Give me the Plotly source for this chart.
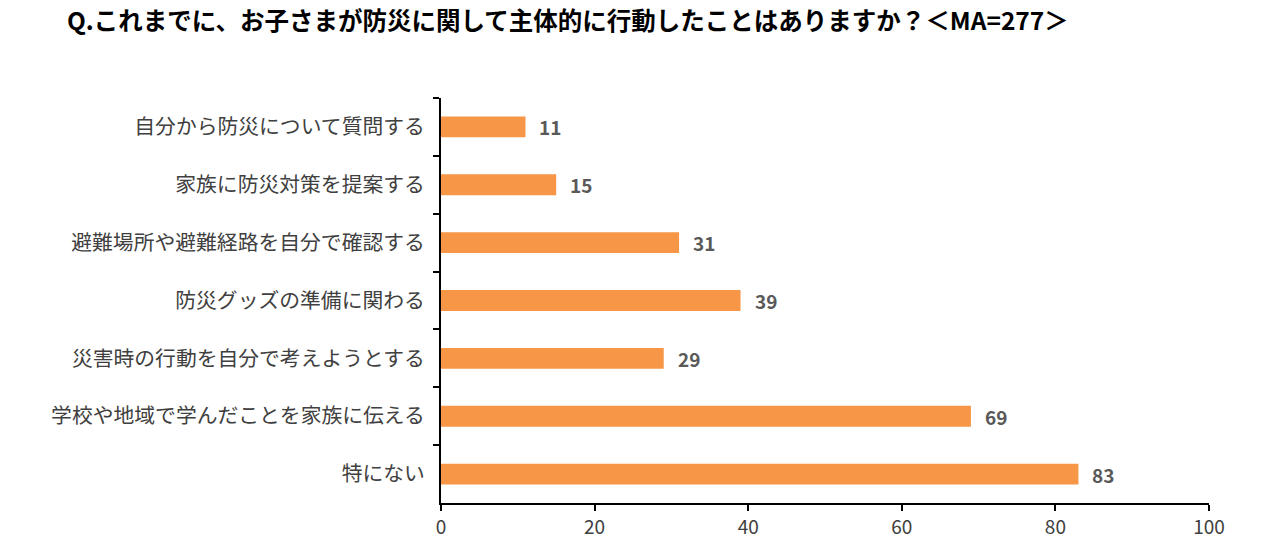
import plotly.graph_objects as go

# Q. これまでに、お子さまが防災に関して主体的に行動したことはありますか？ (MA=277)
categories = ["自分から防災について質問する",
              "家族に防災対策を提案する",
              "避難場所や避難経路を自分で確認する",
              "防災グッズの準備に関わる",
              "災害時の行動を自分で考えようとする",
              "学校や地域で学んだことを家族に伝える",
              "特にない"]
counts = [11, 15, 31, 39, 29, 69, 83]
x_ticks = [0, 20, 40, 60, 80, 100]

font_jp = "Noto Sans CJK JP"

fig = go.Figure(go.Bar(
    x=counts, y=categories, orientation="h",
    marker=dict(color="#F79646", line=dict(width=0)),
    width=0.36,
))

# value labels next to the bar ends
for c, v in zip(categories, counts):
    fig.add_annotation(x=v, y=c, text=f"<b>{v}</b>", showarrow=False,
                       xanchor="left", yanchor="middle", xshift=12,
                       font=dict(size=19, color="#595959", family=font_jp))

fig.update_layout(
    width=1254, height=543,
    plot_bgcolor="white", paper_bgcolor="white",
    margin=dict(l=433, r=53, t=90, b=44),
    showlegend=False,
    title=dict(text="<b>Q.これまでに、お子さまが防災に関して主体的に行動したことはありますか？＜MA=277＞</b>",
               x=59 / 1254, xanchor="left", y=1 - 5 / 543, yanchor="top",
               font=dict(size=24.5, color="#000000", family=font_jp)),
    xaxis=dict(range=[0, 100], tickvals=x_ticks, showgrid=False, zeroline=False,
               showline=True, linecolor="black", linewidth=2,
               ticks="outside", ticklen=6, tickwidth=2, tickcolor="black",
               tickfont=dict(size=19, color="#404040", family=font_jp)),
    yaxis=dict(categoryorder="array", categoryarray=categories, autorange="reversed",
               showgrid=False, showline=True, linecolor="black", linewidth=2,
               ticks="outside", tickson="boundaries", ticklen=6, tickwidth=2, tickcolor="black",
               ticklabelstandoff=10,
               tickfont=dict(size=20.8, color="#404040", family=font_jp)),
    bargap=0.64,
)

fig.write_html("out.html")
